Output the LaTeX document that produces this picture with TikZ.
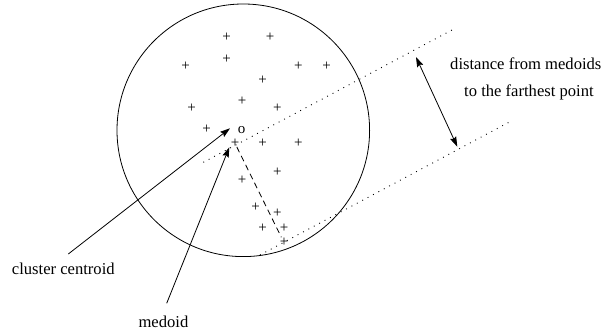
\documentclass[tikz,border=0pt]{standalone}
\usepackage{fontspec}
\setmainfont{Liberation Serif}
\usetikzlibrary{arrows.meta,calc}
\begin{document}
\begin{tikzpicture}[x=1pt,y=-1pt,
  lbl/.style={font=\fontsize{16.6}{20}\selectfont,inner sep=0pt,anchor=base west},
  pt/.style={font=\fontsize{15}{18}\selectfont,inner sep=0pt},
  arr/.style={line width=0.8pt,-{Stealth[length=10pt,width=6.5pt,inset=1.5pt]}},
  darr/.style={line width=0.8pt,{Stealth[length=10pt,width=6.5pt,inset=1.5pt]}-{Stealth[length=10pt,width=6.5pt,inset=1.5pt]}},
  dotline/.style={line width=0.9pt,dash pattern=on 0.9pt off 5.2pt},
  dashline/.style={line width=0.8pt,dash pattern=on 6pt off 4pt}]
\useasboundingbox (0,0) rectangle (603,331);
% cluster circle
\node[draw,circle,line width=0.8pt,minimum size=252.6pt,inner sep=0pt] (cl) at (243.3,130.3) {};
% points
\node[pt] (p1) at (226.7,37.3) {+};
\node[pt] (p2) at (270,37.3) {+};
\node[pt] (p3) at (226.7,59.3) {+};
\node[pt] (p4) at (185.7,66.7) {+};
\node[pt] (p5) at (298.3,66.7) {+};
\node[pt] (p6) at (326.7,66.7) {+};
\node[pt] (p7) at (262.7,80.7) {+};
\node[pt] (p8) at (242,101.7) {+};
\node[pt] (p9) at (191.7,108.7) {+};
\node[pt] (p10) at (277.3,108.7) {+};
\node[pt] (p11) at (206.7,129.3) {+};
\node[pt] (o) at (241.7,130) {o};
\node[pt] (m) at (235,143.3) {+};
\node[pt] (p13) at (262.7,143.3) {+};
\node[pt] (p14) at (298.3,143.3) {+};
\node[pt] (p15) at (277.3,172.7) {+};
\node[pt] (p16) at (242,180) {+};
\node[pt] (p17) at (255.7,207.3) {+};
\node[pt] (p18) at (277.3,213.3) {+};
\node[pt] (p19) at (262.7,228.3) {+};
\node[pt] (p20) at (284,228.3) {+};
\node[pt] (f) at (284,242.7) {+};
% dotted parallel lines
\coordinate (u1) at (203.3,162.3);
\coordinate (u2) at (453.3,29.3);
\coordinate (l1) at (260,255);
\coordinate (l2) at (510,121.7);
\draw[dotline] (u1) -- (u2);
\draw[dotline] (l1) -- (l2);
% dashed medoid to farthest point
\draw[dashline,shorten <=4pt,shorten >=6pt] (m.center) -- (f.center);
% double arrow
\coordinate (a1) at (416,57);
\coordinate (a2) at (457.3,146.7);
\draw[darr] (a1) -- (a2);
% labels
\node[lbl] (t1) at (450,69.3) {distance from medoids};
\node[lbl] (t2) at (464,96.7) {to the farthest point};
\node[lbl] (cc) at (11.7,275) {cluster centroid};
\node[lbl] (md) at (138.3,327.5) {medoid};
% arrows
\coordinate (ccs) at (68.3,254);
\coordinate (mds) at (166.7,303.3);
\draw[arr] (ccs) -- ($(o.center)+(-11.7,-1.7)$);
\draw[arr] (mds) -- ($(m.center)+(-5.7,4)$);
\end{tikzpicture}
\end{document}
